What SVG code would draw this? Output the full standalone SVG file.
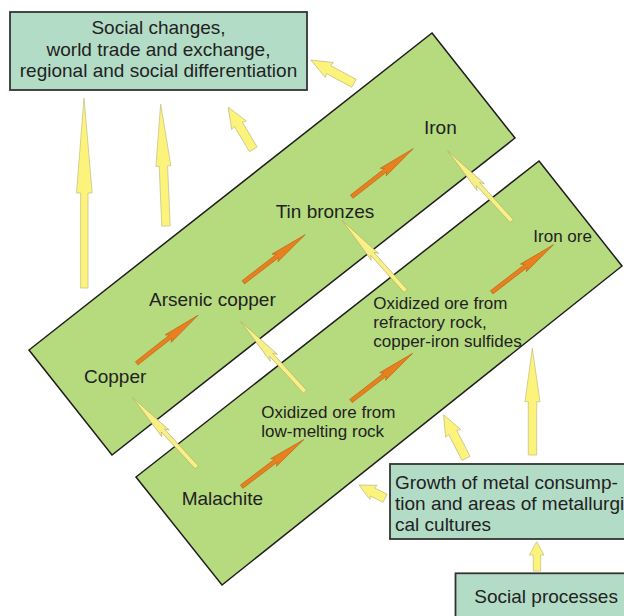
<svg xmlns="http://www.w3.org/2000/svg" xmlns:xlink="http://www.w3.org/1999/xlink" width="624" height="616" viewBox="0 0 624 616">
<style>
  .band { fill: #b6da7e; stroke: #1e1e1e; stroke-width: 1.5; stroke-linejoin: miter; }
  .box { fill: #b3dcc6; stroke: #333; stroke-width: 1.8; }
  .t { font-family: "Liberation Sans", Arial, sans-serif; fill: #222; }
  .lb { font-size: 19px; }
  .sm { font-size: 17px; }
  .big { fill: #fcf37b; stroke: #c9c48c; stroke-width: 0.8; stroke-linejoin: round; }
  .ora { fill: #e8801f; stroke: #b95e12; stroke-width: 0.6; }
  .thin { fill: #f7ef88; stroke: #b3aa62; stroke-width: 0.6; }
</style>
<defs>
  <polygon id="orange" points="0,-2 43,-2 40,-4.8 78,0 40,4.8 43,2 0,2"/>
  <polygon id="needle" points="0,-2.2 50,-2.2 46,-5 95,0 46,5 50,2.2 0,2.2"/>
  <polygon id="short" points="0,-4.5 29,-4.5 28,-8.5 49,0 28,8.5 29,4.5 0,4.5"/>
</defs>

<g id="band-metals">
  <polygon class="band" points="432,33 515,138 112,455 29,350"/>
  <text class="t lb" x="424" y="134">Iron</text>
  <text class="t lb" x="275.7" y="218">Tin bronzes</text>
  <text class="t lb" x="149" y="305.7">Arsenic copper</text>
  <text class="t lb" x="84" y="383">Copper</text>
</g>

<g id="band-ores">
  <polygon class="band" points="539,161 622,266 222,585 136,477"/>
  <text class="t sm" x="533.3" y="241.7">Iron ore</text>
  <text class="t sm" x="373.3" y="309">Oxidized ore from</text>
  <text class="t sm" x="373.3" y="328.2">refractory rock,</text>
  <text class="t sm" x="373.3" y="347.4">copper-iron sulfides</text>
  <text class="t sm" x="261.3" y="417.7">Oxidized ore from</text>
  <text class="t sm" x="261.3" y="437.2">low-melting rock</text>
  <text class="t lb" x="181.7" y="505">Malachite</text>
</g>

<g id="box-social-changes">
  <rect class="box" x="10" y="12" width="297" height="78"/>
  <text class="t lb" x="158.5" y="34.3" text-anchor="middle">Social changes,</text>
  <text class="t lb" x="158.5" y="55.6" text-anchor="middle">world trade and exchange,</text>
  <text class="t lb" x="158.5" y="76.8" text-anchor="middle">regional and social differentiation</text>
</g>

<g id="box-growth">
  <rect class="box" x="390" y="464" width="250" height="75"/>
  <text class="t lb" x="395" y="488.5">Growth of metal consump-</text>
  <text class="t lb" x="395" y="509.5">tion and areas of metallurgi-</text>
  <text class="t lb" x="395" y="530.5">cal cultures</text>
</g>

<g id="box-social-processes">
  <rect class="box" x="455.5" y="573.3" width="200" height="60"/>
  <text class="t lb" x="474.3" y="603.3">Social processes</text>
</g>

<g id="connectors">
  <!-- big yellow arrows -->
  <polygon class="big" points="80.6,288 80.6,193 76.5,193 84,98 92.2,193 88,193 88,288"/>
  <polygon class="big" transform="translate(166,226) rotate(-92.5)" points="0,-4.2 60,-4.2 60,-7.5 122,0 60,7.5 60,4.2 0,4.2"/>
  <use xlink:href="#short" class="big" transform="translate(253.3,149.3) rotate(-120.8)"/>
  <use xlink:href="#short" class="big" transform="translate(354,83.3) rotate(-151.7)"/>
  <use xlink:href="#short" class="big" transform="translate(466,458.3) rotate(-117.2)"/>
  <polygon class="big" transform="translate(385,498.3) rotate(-152.9)" points="0,-4.5 14,-4.5 13,-8 29,0 13,8 14,4.5 0,4.5"/>
  <polygon class="big" points="528.3,455 528.3,401.7 525,401.7 532.3,348.3 540,401.7 536.7,401.7 536.7,455"/>
  <polygon class="big" points="533.3,571 533.3,555 529.3,555 536.7,541.7 544,555 540.7,555 540.7,571"/>

  <!-- orange arrows -->
  <use xlink:href="#orange" class="ora" transform="translate(136.7,363.3) rotate(-38.1)"/>
  <use xlink:href="#orange" class="ora" transform="translate(243.3,282.3) rotate(-37.6)"/>
  <use xlink:href="#orange" class="ora" transform="translate(351.7,196.7) rotate(-38)"/>
  <use xlink:href="#orange" class="ora" transform="translate(241.7,486.7) rotate(-37.2)"/>
  <use xlink:href="#orange" class="ora" transform="translate(351,401) rotate(-37.7)"/>
  <use xlink:href="#orange" class="ora" transform="translate(491.7,292.3) rotate(-37.6)"/>

  <!-- thin yellow arrows -->
  <use xlink:href="#needle" class="thin" transform="translate(196.7,467.3) rotate(-132.6)"/>
  <use xlink:href="#needle" class="thin" transform="translate(305,391.7) rotate(-132.5)"/>
  <use xlink:href="#needle" class="thin" transform="translate(405.7,291) rotate(-132)"/>
  <use xlink:href="#needle" class="thin" transform="translate(511.7,221) rotate(-132.4)"/>
</g>
</svg>
